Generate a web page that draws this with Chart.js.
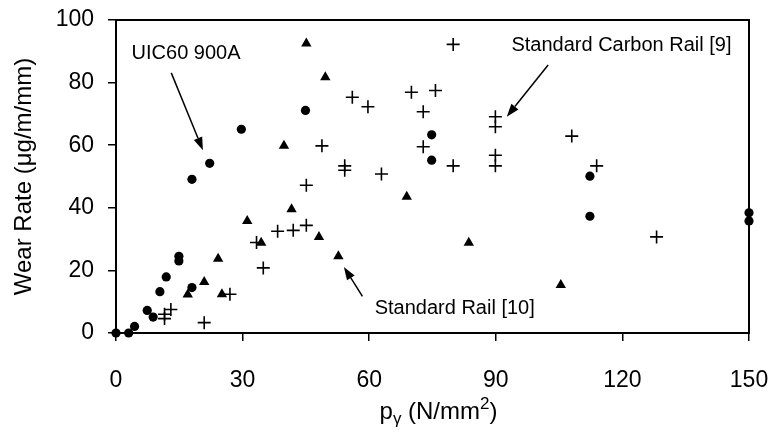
<!DOCTYPE html>
<html>
<head>
<meta charset="utf-8">
<title>Wear Rate vs p_gamma</title>
<script src="https://cdn.jsdelivr.net/npm/chart.js@4/dist/chart.umd.min.js"></script>
<style>
  html, body { margin:0; padding:0; background:#fff; }
  #wrap { width:776px; height:442px; }
</style>
</head>
<body>
<div id="wrap"><canvas id="wearChart" width="776" height="442"></canvas></div>
<script>
// ============================================
// Wear rate vs. p_gamma – three rail steels
// ============================================

// ── Data ─────────────────────────────────
// UIC60 900A (filled circles)
const uicX = [0, 3, 4.4, 7.4, 8.8, 10.4, 11.9, 14.9, 14.9, 18.0, 18.0, 22.2, 29.7, 44.9, 74.8, 74.8, 112.3, 112.3, 150, 150];
const uicY = [0, 0, 2.1, 7.2, 5.1, 13.2, 17.9, 24.5, 23.0, 14.5, 49.1, 54.2, 65.1, 71.1, 63.3, 55.2, 50.1, 37.3, 38.4, 35.8];

// Standard Rail [10] (filled triangles)
const stdX = [17.0, 20.9, 24.2, 25.1, 31.1, 34.4, 39.8, 41.6, 45.1, 48.1, 49.6, 52.7, 68.9, 83.6, 105.4];
const stdY = [12.3, 16.3, 23.7, 12.4, 35.8, 28.8, 59.8, 39.5, 92.5, 30.7, 81.7, 24.5, 43.5, 28.8, 15.3];

// Standard Carbon Rail [9] (plus signs)
const carbX = [11.5, 11.5, 13.0, 20.9, 27.0, 33.3, 34.9, 38.3, 42.0, 45.1, 45.1, 48.8, 54.2, 54.2, 56.0,
               59.7, 62.9, 70.0, 72.8, 72.8, 75.7, 79.9, 79.9, 89.9, 89.9, 89.9, 89.9, 108.0, 113.9, 128.1];
const carbY = [4.6, 6.0, 7.5, 3.3, 12.4, 28.9, 20.8, 32.5, 32.8, 34.4, 47.2, 59.8, 53.4, 52.0, 75.3,
               72.3, 50.8, 76.9, 70.7, 59.5, 77.5, 92.2, 53.4, 69.1, 65.9, 56.8, 53.4, 62.9, 53.4, 30.7];

// Axis ticks
const xTicks = [0, 30, 60, 90, 120, 150];
const yTicks = [0, 20, 40, 60, 80, 100];

// Callouts: label anchor and arrow (tail → head), in data units
const noteText = ['UIC60 900A', 'Standard Carbon Rail [9]', 'Standard Rail [10]'];
const noteAt   = [[3.7, 89.4], [93.7, 92.0], [61.3, 7.9]];
const noteTail = [[13.1, 83.1], [102.4, 85.6], [58.4, 11.7]];
const noteHead = [[20.6, 58.4], [92.6, 69.1], [54.0, 21.1]];

const toPoints = (xs, ys) => xs.map((x, i) => ({ x, y: ys[i] }));

const FONT = '"Liberation Sans", Arial, Helvetica, sans-serif';
Chart.defaults.color = '#000';
Chart.defaults.font.family = FONT;

// ── Plot frame (top/right sides) ─────────
const framePlugin = {
    id: 'frame',
    beforeDatasetsDraw(chart) {
        const { ctx, chartArea: a } = chart;
        ctx.save();
        ctx.strokeStyle = '#000';
        ctx.lineWidth = 2;
        ctx.strokeRect(a.left, a.top, a.right - a.left, a.bottom - a.top);
        ctx.restore();
    }
};

// ── Callouts + x-axis title ──────────────
const notesPlugin = {
    id: 'notes',
    afterDraw(chart) {
        const { ctx, scales: { x, y } } = chart;
        ctx.save();
        ctx.fillStyle = '#000';
        ctx.strokeStyle = '#000';
        ctx.font = `20px ${FONT}`;
        ctx.textBaseline = 'middle';
        ctx.textAlign = 'left';

        noteText.forEach((txt, i) => {
            ctx.fillText(txt, x.getPixelForValue(noteAt[i][0]), y.getPixelForValue(noteAt[i][1]));

            const x0 = x.getPixelForValue(noteTail[i][0]), y0 = y.getPixelForValue(noteTail[i][1]);
            const x1 = x.getPixelForValue(noteHead[i][0]), y1 = y.getPixelForValue(noteHead[i][1]);
            const ang = Math.atan2(y1 - y0, x1 - x0);
            const len = 13, half = 4.5;
            const bx = x1 - Math.cos(ang) * len, by = y1 - Math.sin(ang) * len;

            ctx.lineWidth = 1.5;
            ctx.beginPath();
            ctx.moveTo(x0, y0);
            ctx.lineTo(bx, by);
            ctx.stroke();

            ctx.beginPath();
            ctx.moveTo(x1, y1);
            ctx.lineTo(bx - Math.sin(ang) * half, by + Math.cos(ang) * half);
            ctx.lineTo(bx + Math.sin(ang) * half, by - Math.cos(ang) * half);
            ctx.closePath();
            ctx.fill();
        });

        // p_gamma (N/mm^2) with sub/superscript
        const big = `24px ${FONT}`, small = `17px ${FONT}`;
        const parts = [
            { t: 'p', f: big, dy: 0 },
            { t: 'γ', f: small, dy: 5 },
            { t: ' (N/mm', f: big, dy: 0 },
            { t: '2', f: small, dy: -10 },
            { t: ')', f: big, dy: 0 }
        ];
        let total = 0;
        parts.forEach(p => { ctx.font = p.f; p.w = ctx.measureText(p.t).width; total += p.w; });
        let cx = (x.left + x.right) / 2 + 6 - total / 2;
        const base = 419;
        ctx.textBaseline = 'alphabetic';
        parts.forEach(p => {
            ctx.font = p.f;
            ctx.fillText(p.t, cx, base + p.dy);
            cx += p.w;
        });
        ctx.restore();
    }
};

// ── Chart ────────────────────────────────
const ctx = document.getElementById('wearChart');
new Chart(ctx, {
    type: 'scatter',
    data: {
        datasets: [
            { label: 'UIC60 900A', data: toPoints(uicX, uicY),
              pointStyle: 'circle', pointRadius: 4.6, backgroundColor: '#000', borderColor: '#000', borderWidth: 0, clip: false },
            { label: 'Standard Rail [10]', data: toPoints(stdX, stdY),
              pointStyle: 'triangle', pointRadius: 6, backgroundColor: '#000', borderColor: '#000', borderWidth: 0, clip: false },
            { label: 'Standard Carbon Rail [9]', data: toPoints(carbX, carbY),
              pointStyle: 'cross', pointRadius: 6.5, backgroundColor: '#000', borderColor: '#000', borderWidth: 1.6, clip: false }
        ]
    },
    options: {
        responsive: false,
        animation: false,
        layout: { padding: { left: 0, right: 27, top: 20, bottom: 0 } },
        plugins: {
            legend: { display: false },
            tooltip: { enabled: false }
        },
        scales: {
            x: {
                type: 'linear', min: 0, max: 150,
                afterBuildTicks: s => { s.ticks = xTicks.map(v => ({ value: v })); },
                afterFit: s => { s.height = 109; s.paddingLeft = 0; s.paddingRight = 0; },
                ticks: { font: { size: 23 }, padding: 26, maxRotation: 0 },
                grid: { drawOnChartArea: false, drawTicks: true, tickLength: 8, color: '#000', lineWidth: 1.5 },
                border: { display: true, color: '#000', width: 2 }
            },
            y: {
                type: 'linear', min: 0, max: 100,
                afterBuildTicks: s => { s.ticks = yTicks.map(v => ({ value: v })); },
                afterFit: s => { s.width = 116; s.paddingTop = 0; s.paddingBottom = 0; },
                ticks: { font: { size: 23 }, padding: 14 },
                grid: { drawOnChartArea: false, drawTicks: true, tickLength: 8, color: '#000', lineWidth: 1.5 },
                border: { display: true, color: '#000', width: 2 },
                title: { display: true, text: 'Wear Rate (μg/m/mm)', font: { size: 24 }, padding: { top: 10, bottom: 0 } }
            }
        }
    },
    plugins: [framePlugin, notesPlugin]
});
</script>
</body>
</html>
